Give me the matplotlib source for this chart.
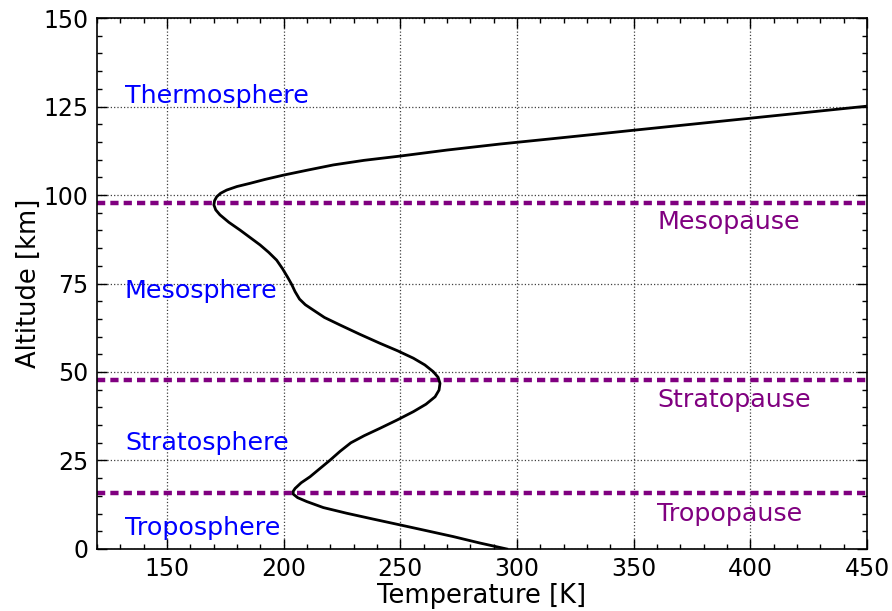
import matplotlib
matplotlib.use("Agg")
import matplotlib.pyplot as plt
from matplotlib.ticker import MultipleLocator

# Temperature profile of the atmosphere (K vs km)
temperature = [295.6, 284.0, 272.7, 261.0, 249.9, 238.0, 227.0, 217.0, 209.9, 206.0,
               204.1, 204.1, 204.9, 207.5, 211.3, 215.5, 219.9, 224.2, 228.8, 234.5,
               241.3, 248.5, 255.6, 261.0, 264.9, 266.6, 267.0, 266.2, 264.1, 260.5,
               255.6, 248.8, 241.3, 232.5, 224.1, 217.5, 212.7, 209.3, 206.8, 204.9,
               203.4, 201.6, 199.5, 197.0, 193.6, 189.9, 185.6, 181.3, 176.5, 172.7,
               170.9, 170.1, 170.4, 171.3, 173.0, 175.6, 180.0, 185.6, 192.0, 199.8,
               210.0, 221.3, 234.5, 249.9, 270.0, 292.7, 315.0, 335.6, 350.0, 375.0,
               400.0, 425.0, 450.0]
altitude = [0.0, 1.7, 3.5, 5.2, 6.8, 8.5, 10.1, 11.7, 13.4, 14.5,
            15.5, 16.3, 17.1, 18.7, 20.4, 22.7, 25.1, 27.6, 30.0, 32.0,
            34.1, 36.4, 38.8, 40.9, 43.0, 44.9, 46.8, 48.5, 50.1, 52.0,
            53.9, 56.0, 58.1, 60.7, 63.3, 65.4, 67.5, 69.0, 70.6, 72.7,
            74.8, 76.9, 79.2, 81.6, 83.8, 85.9, 88.0, 90.1, 92.3, 94.4,
            95.8, 97.2, 98.4, 99.5, 100.5, 101.4, 102.4, 103.3, 104.4, 105.6,
            107.0, 108.5, 109.8, 111.0, 112.7, 114.4, 115.9, 117.3, 118.3, 120.0,
            121.7, 123.4, 125.1]

layer_names = ["Troposphere", "Stratosphere", "Mesosphere", "Thermosphere"]
layer_label_alt = [6, 30, 73, 128]

pause_names = ["Tropopause", "Stratopause", "Mesopause"]
pause_alt = [15.7, 47.8, 97.8]
pause_label_alt = [10, 42, 92.4]

fig = plt.figure(figsize=(8.92, 6.11), dpi=100)
ax = fig.add_axes([0.1087, 0.1015, 0.8633, 0.869])

ax.plot(temperature, altitude, color="black", lw=2.0, zorder=3,
        solid_joinstyle="round")

for h in pause_alt:
    ax.axhline(h, color="purple", lw=3.2, dashes=(1.85, 1.15), zorder=2)

for name, h in zip(layer_names, layer_label_alt):
    ax.text(132, h, name, color="blue", fontsize=18.3, va="center", ha="left")

for name, h in zip(pause_names, pause_label_alt):
    ax.text(360, h, name, color="purple", fontsize=18.3, va="center", ha="left")

ax.set_xlim(120, 450)
ax.set_ylim(0, 150)
ax.xaxis.set_major_locator(MultipleLocator(50))
ax.xaxis.set_minor_locator(MultipleLocator(10))
ax.yaxis.set_major_locator(MultipleLocator(25))
ax.yaxis.set_minor_locator(MultipleLocator(5))
ax.tick_params(which="both", direction="in", top=True, right=True)
ax.tick_params(which="major", length=7, width=1, labelsize=17, pad=6)
ax.tick_params(which="minor", length=3.5, width=1)
ax.grid(True, which="major", color="0.25", linestyle=":", lw=0.9)
for s in ax.spines.values():
    s.set_linewidth(1.2)

ax.set_xlabel("Temperature [K]", fontsize=18.5, labelpad=1)
ax.set_ylabel("Altitude [km]", fontsize=18.5, labelpad=1)

fig.savefig("out.png", dpi=100)
